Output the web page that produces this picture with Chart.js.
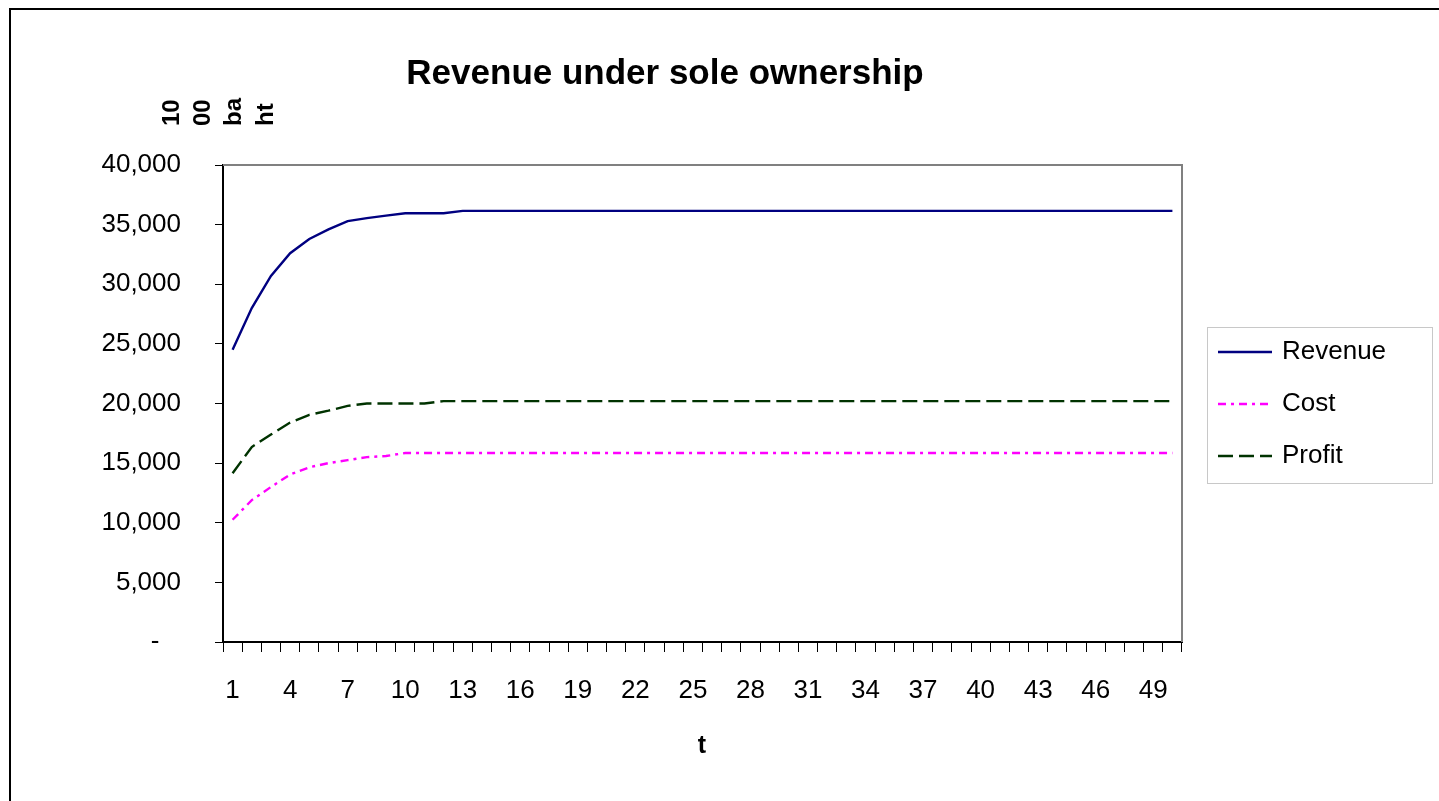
<!DOCTYPE html>
<html>
<head>
<meta charset="utf-8">
<title>Revenue under sole ownership</title>
<script src="https://cdn.jsdelivr.net/npm/chart.js@4/dist/chart.umd.min.js"></script>
<style>
  html, body { margin: 0; padding: 0; background: #fff; }
  canvas { display: block; }
</style>
</head>
<body>
<canvas id="c" width="1439" height="801"></canvas>
<script>
// Period index t (1..50)
const periods = [1, 2, 3, 4, 5, 6, 7, 8, 9, 10,
  11, 12, 13, 14, 15, 16, 17, 18, 19, 20,
  21, 22, 23, 24, 25, 26, 27, 28, 29, 30,
  31, 32, 33, 34, 35, 36, 37, 38, 39, 40,
  41, 42, 43, 44, 45, 46, 47, 48, 49, 50];

// Values in 1000 baht
const revenue = [24500, 28000, 30700, 32600, 33800, 34600, 35300, 35550, 35750, 35950,
  35950, 35950, 36150, 36150, 36150, 36150, 36150, 36150, 36150, 36150,
  36150, 36150, 36150, 36150, 36150, 36150, 36150, 36150, 36150, 36150,
  36150, 36150, 36150, 36150, 36150, 36150, 36150, 36150, 36150, 36150,
  36150, 36150, 36150, 36150, 36150, 36150, 36150, 36150, 36150, 36150];

const cost = [10250, 11900, 13000, 14050, 14650, 15000, 15250, 15500, 15600, 15850,
  15850, 15850, 15850, 15850, 15850, 15850, 15850, 15850, 15850, 15850,
  15850, 15850, 15850, 15850, 15850, 15850, 15850, 15850, 15850, 15850,
  15850, 15850, 15850, 15850, 15850, 15850, 15850, 15850, 15850, 15850,
  15850, 15850, 15850, 15850, 15850, 15850, 15850, 15850, 15850, 15850];

const profit = [14150, 16350, 17400, 18400, 19050, 19400, 19800, 20000, 20000, 20000,
  20000, 20200, 20200, 20200, 20200, 20200, 20200, 20200, 20200, 20200,
  20200, 20200, 20200, 20200, 20200, 20200, 20200, 20200, 20200, 20200,
  20200, 20200, 20200, 20200, 20200, 20200, 20200, 20200, 20200, 20200,
  20200, 20200, 20200, 20200, 20200, 20200, 20200, 20200, 20200, 20200];

const seriesNames = ['Revenue', 'Cost', 'Profit'];
const chartTitle = 'Revenue under sole ownership';
const xTitle = 't';
const yTitleLines = ['10', '00', 'ba', 'ht'];

const FONT = '"Liberation Sans", Arial, sans-serif';

// Titles, legend panel, plot frame and outer border
const decorations = {
  id: 'decorations',
  afterDraw(chart) {
    const ctx = chart.ctx;
    const a = chart.chartArea;
    ctx.save();

    // grey top/right edges of the plot area
    ctx.strokeStyle = '#808080';
    ctx.lineWidth = 2;
    ctx.setLineDash([]);
    ctx.beginPath();
    ctx.moveTo(a.left, a.top);
    ctx.lineTo(a.right, a.top);
    ctx.lineTo(a.right, a.bottom);
    ctx.stroke();

    // outer border
    ctx.strokeStyle = '#000';
    ctx.lineWidth = 2;
    ctx.beginPath();
    ctx.moveTo(10, chart.height);
    ctx.lineTo(10, 9);
    ctx.lineTo(chart.width, 9);
    ctx.stroke();

    ctx.fillStyle = '#000';

    // chart title
    ctx.font = 'bold 35px ' + FONT;
    ctx.textAlign = 'center';
    ctx.textBaseline = 'middle';
    ctx.fillText(chartTitle, 665, 74);

    // x-axis title
    ctx.font = 'bold 25px ' + FONT;
    ctx.fillText(xTitle, 702, 746);

    // y-axis title, rotated, one short line per column
    ctx.font = 'bold 24px ' + FONT;
    ctx.textAlign = 'left';
    ctx.textBaseline = 'middle';
    ctx.translate(0, 126);
    ctx.rotate(-Math.PI / 2);
    const colX = [172, 203, 234, 266];
    yTitleLines.forEach((s, i) => ctx.fillText(s, 0, colX[i]));
    ctx.setTransform(1, 0, 0, 1, 0, 0);

    // legend panel
    ctx.strokeStyle = '#c8c8c8';
    ctx.lineWidth = 1;
    ctx.strokeRect(1207.5, 327.5, 225, 156);
    ctx.font = '26px ' + FONT;
    ctx.textAlign = 'left';
    ctx.textBaseline = 'middle';
    chart.data.datasets.forEach((ds, i) => {
      const y = 352 + 52 * i;
      ctx.strokeStyle = ds.borderColor;
      ctx.lineWidth = ds.borderWidth;
      ctx.setLineDash(ds.borderDash || []);
      ctx.beginPath();
      ctx.moveTo(1218, y);
      ctx.lineTo(1272, y);
      ctx.stroke();
      ctx.setLineDash([]);
      ctx.fillStyle = '#000';
      ctx.fillText(ds.label, 1282, y);
    });
    ctx.restore();
  }
};

new Chart(document.getElementById('c'), {
  type: 'line',
  data: {
    labels: periods,
    datasets: [
      { label: seriesNames[0], data: revenue, borderColor: '#000080', borderWidth: 2.4, borderDash: [] },
      { label: seriesNames[1], data: cost, borderColor: '#ff00ff', borderWidth: 2.4, borderDash: [8, 5, 3, 5] },
      { label: seriesNames[2], data: profit, borderColor: '#003300', borderWidth: 2.4, borderDash: [15, 6] }
    ]
  },
  options: {
    responsive: false,
    animation: false,
    layout: { padding: { left: 0, top: 165, right: 257, bottom: 0 } },
    plugins: {
      legend: { display: false },
      title: { display: false },
      tooltip: { enabled: false }
    },
    elements: {
      point: { radius: 0, hoverRadius: 0 },
      line: { tension: 0, fill: false }
    },
    scales: {
      x: {
        type: 'category',
        offset: true,
        grid: { offset: true, drawOnChartArea: false, drawTicks: true, tickLength: 10, color: '#000', lineWidth: 1 },
        border: { color: '#000', width: 2 },
        ticks: {
          autoSkip: false,
          maxRotation: 0,
          padding: 23,
          color: '#000',
          font: { family: FONT, size: 26 },
          callback: (v, i) => (i % 3 === 0 ? String(periods[i]) : '')
        },
        afterFit: (s) => { s.height = 159; }
      },
      y: {
        min: 0,
        max: 40000,
        grid: { drawOnChartArea: false, drawTicks: true, tickLength: 8, color: '#000', lineWidth: 1 },
        border: { color: '#000', width: 2 },
        ticks: {
          stepSize: 5000,
          padding: 34,
          color: '#000',
          font: { family: FONT, size: 26 },
          callback: (v) => (v === 0 ? '-   ' : v.toLocaleString('en-US'))
        },
        afterFit: (s) => { s.width = 223; }
      }
    }
  },
  plugins: [decorations]
});
</script>
</body>
</html>
